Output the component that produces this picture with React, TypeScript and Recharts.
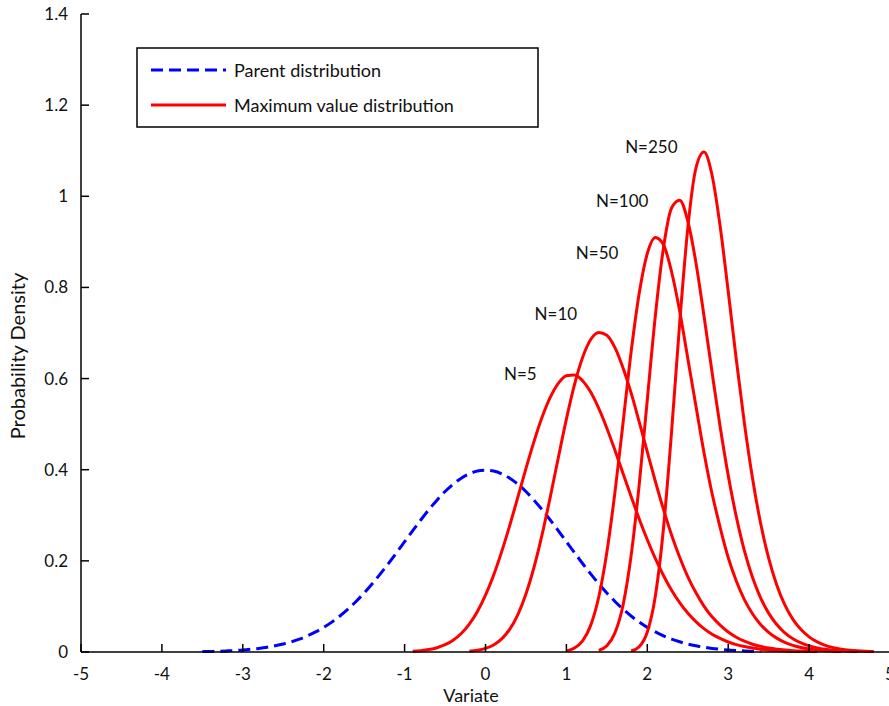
import { LineChart, Line, XAxis, YAxis, ReferenceDot } from "recharts";

// parent distribution (standard normal)
const PARENT: [number, number][] = [
  [-3.5, 0.0009], [-3.4, 0.0012], [-3.3, 0.0017], [-3.2, 0.0024], [-3.1, 0.0033],
  [-3.0, 0.0044], [-2.9, 0.006], [-2.8, 0.0079], [-2.7, 0.0104], [-2.6, 0.0136],
  [-2.5, 0.0175], [-2.4, 0.0224], [-2.3, 0.0283], [-2.2, 0.0355], [-2.1, 0.044],
  [-2.0, 0.054], [-1.9, 0.0656], [-1.8, 0.079], [-1.7, 0.094], [-1.6, 0.1109],
  [-1.5, 0.1295], [-1.4, 0.1497], [-1.3, 0.1714], [-1.2, 0.1942], [-1.1, 0.2179],
  [-1.0, 0.242], [-0.9, 0.2661], [-0.8, 0.2897], [-0.7, 0.3123], [-0.6, 0.3332],
  [-0.5, 0.3521], [-0.4, 0.3683], [-0.3, 0.3814], [-0.2, 0.391], [-0.1, 0.397],
  [0, 0.3989], [0.1, 0.397], [0.2, 0.391], [0.3, 0.3814], [0.4, 0.3683],
  [0.5, 0.3521], [0.6, 0.3332], [0.7, 0.3123], [0.8, 0.2897], [0.9, 0.2661],
  [1.0, 0.242], [1.1, 0.2179], [1.2, 0.1942], [1.3, 0.1714], [1.4, 0.1497],
  [1.5, 0.1295], [1.6, 0.1109], [1.7, 0.094], [1.8, 0.079], [1.9, 0.0656],
  [2.0, 0.054], [2.1, 0.044], [2.2, 0.0355], [2.3, 0.0283], [2.4, 0.0224],
  [2.5, 0.0175], [2.6, 0.0136], [2.7, 0.0104], [2.8, 0.0079], [2.9, 0.006],
  [3.0, 0.0044], [3.1, 0.0033], [3.2, 0.0024], [3.3, 0.0017], [3.4, 0.0012],
];

// maximum value distributions, one per sample size N
const MAX_N5: [number, number][] = [
  [-0.9, 0.0015], [-0.8, 0.0029], [-0.7, 0.0054], [-0.6, 0.0094], [-0.5, 0.016],
  [-0.4, 0.026], [-0.3, 0.0407], [-0.2, 0.0612], [-0.1, 0.089], [0, 0.1247],
  [0.1, 0.1685], [0.2, 0.2202], [0.3, 0.278], [0.4, 0.3398], [0.5, 0.4025],
  [0.6, 0.4621], [0.7, 0.5155], [0.8, 0.5588], [0.9, 0.5896], [1.0, 0.6062],
  [1.1, 0.608], [1.2, 0.5954], [1.3, 0.5703], [1.4, 0.5344], [1.5, 0.4911],
  [1.6, 0.4426], [1.7, 0.3916], [1.8, 0.3413], [1.9, 0.2919], [2.0, 0.2463],
  [2.1, 0.2047], [2.2, 0.1678], [2.3, 0.1355], [2.4, 0.1084], [2.5, 0.0854],
  [2.6, 0.0667], [2.7, 0.0513], [2.8, 0.0391], [2.9, 0.0298], [3.0, 0.022],
  [3.1, 0.0163], [3.2, 0.0119], [3.3, 0.0086], [3.4, 0.0062], [3.5, 0.0044],
  [3.6, 0.0031], [3.7, 0.0021], [3.8, 0.0015], [3.9, 0.001],
];
const MAX_N10: [number, number][] = [
  [-0.2, 0.0016], [-0.1, 0.0037], [0, 0.0078], [0.1, 0.0154], [0.2, 0.0287],
  [0.3, 0.0501], [0.4, 0.0822], [0.5, 0.1273], [0.6, 0.186], [0.7, 0.258],
  [0.8, 0.3397], [0.9, 0.4264], [1.0, 0.511], [1.1, 0.5865], [1.2, 0.6461],
  [1.3, 0.6856], [1.4, 0.7013], [1.5, 0.6951], [1.6, 0.6678], [1.7, 0.6234],
  [1.8, 0.5685], [1.9, 0.5048], [2.0, 0.439], [2.1, 0.3741], [2.2, 0.313],
  [2.3, 0.2568], [2.4, 0.208], [2.5, 0.1655], [2.6, 0.1304], [2.7, 0.1008],
  [2.8, 0.0772], [2.9, 0.059], [3.0, 0.0438], [3.1, 0.0324], [3.2, 0.0237],
  [3.3, 0.0171], [3.4, 0.0123], [3.5, 0.0087], [3.6, 0.0061], [3.7, 0.0043],
  [3.8, 0.0029], [3.9, 0.002], [4.0, 0.0013], [4.1, 0.0009],
];
const MAX_N50: [number, number][] = [
  [1.0, 0.0025], [1.1, 0.0086], [1.2, 0.0243], [1.3, 0.0584], [1.4, 0.1206],
  [1.5, 0.2189], [1.6, 0.3503], [1.7, 0.5025], [1.8, 0.6586], [1.9, 0.7874],
  [2.0, 0.8744], [2.1, 0.9098], [2.2, 0.8938], [2.3, 0.8344], [2.4, 0.7483],
  [2.5, 0.6448], [2.6, 0.5409], [2.7, 0.4385], [2.8, 0.3484], [2.9, 0.2737],
  [3.0, 0.2073], [3.1, 0.1559], [3.2, 0.1151], [3.3, 0.084], [3.4, 0.0605],
  [3.5, 0.0432], [3.6, 0.0304], [3.7, 0.0211], [3.8, 0.0146], [3.9, 0.0099],
  [4.0, 0.0067], [4.1, 0.0045], [4.2, 0.003], [4.3, 0.0019], [4.4, 0.0013],
];
const MAX_N100: [number, number][] = [
  [1.4, 0.0036], [1.5, 0.0138], [1.6, 0.0419], [1.7, 0.1026], [1.8, 0.2116],
  [1.9, 0.3672], [2.0, 0.5535], [2.1, 0.7388], [2.2, 0.8872], [2.3, 0.9744],
  [2.4, 0.9915], [2.5, 0.9459], [2.6, 0.8555], [2.7, 0.7384], [2.8, 0.6143],
  [2.9, 0.4947], [3.0, 0.3876], [3.1, 0.2971], [3.2, 0.2224], [3.3, 0.164],
  [3.4, 0.119], [3.5, 0.0853], [3.6, 0.0602], [3.7, 0.042], [3.8, 0.029],
  [3.9, 0.0198], [4.0, 0.0134], [4.1, 0.0089], [4.2, 0.0059], [4.3, 0.0039],
  [4.4, 0.0025], [4.5, 0.0016], [4.6, 0.001],
];
const MAX_N250: [number, number][] = [
  [1.8, 0.0022], [1.9, 0.0116], [2.0, 0.0438], [2.1, 0.1236], [2.2, 0.2716],
  [2.3, 0.4834], [2.4, 0.721], [2.5, 0.9292], [2.6, 1.061], [2.7, 1.0972],
  [2.8, 1.0466], [2.9, 0.9347], [3.0, 0.7915], [3.1, 0.6419], [3.2, 0.5023],
  [3.3, 0.3819], [3.4, 0.2832], [3.5, 0.206], [3.6, 0.1471], [3.7, 0.1034],
  [3.8, 0.0717], [3.9, 0.0492], [4.0, 0.0332], [4.1, 0.0222], [4.2, 0.0147],
  [4.3, 0.0096], [4.4, 0.0062], [4.5, 0.004], [4.6, 0.0025], [4.7, 0.0016],
  [4.8, 0.001],
];

const RED_SERIES = [MAX_N5, MAX_N10, MAX_N50, MAX_N100, MAX_N250];

// curve labels, placed in data units
const N_LABELS: { text: string; x: number; y: number }[] = [
  { text: "N=5", x: 0.43, y: 0.61 },
  { text: "N=10", x: 0.87, y: 0.742 },
  { text: "N=50", x: 1.38, y: 0.876 },
  { text: "N=100", x: 1.69, y: 0.99 },
  { text: "N=250", x: 2.05, y: 1.108 },
];

const X_TICKS = [-5, -4, -3, -2, -1, 0, 1, 2, 3, 4, 5];
const Y_TICKS = [0, 0.2, 0.4, 0.6, 0.8, 1, 1.2, 1.4];

const LEGEND_ITEMS = [
  { label: "Parent distribution", color: "#0000ff", dash: "12 6" },
  { label: "Maximum value distribution", color: "#ff0000", dash: undefined as string | undefined },
];

const FONT = "Lato, 'Open Sans', sans-serif";
const TEXT = "#111";

const toPoints = (arr: [number, number][]) => arr.map(([x, y]) => ({ x, y }));

const axisLine = { stroke: "#000", strokeWidth: 1.5 };
const tickStyle = { fill: TEXT, fontSize: 17, fontFamily: FONT };

function YTitle() {
  return (
    <text
      x={17}
      y={356}
      transform="rotate(-90 17 356)"
      textAnchor="middle"
      dominantBaseline="central"
      fontSize={20}
      fontFamily={FONT}
      fill={TEXT}
    >
      Probability Density
    </text>
  );
}

function XTitle() {
  return (
    <text x={471} y={702} textAnchor="middle" fontSize={18} fontFamily={FONT} fill={TEXT}>
      Variate
    </text>
  );
}

function LegendBox() {
  return (
    <svg width={403} height={81} style={{ position: "absolute", left: 136, top: 47 }}>
      <rect x={1} y={1} width={401} height={79} fill="#fff" stroke="#000" strokeWidth={1.5} />
      {LEGEND_ITEMS.map((it, i) => (
        <g key={i}>
          <line
            x1={15}
            x2={90}
            y1={23 + i * 35}
            y2={23 + i * 35}
            stroke={it.color}
            strokeWidth={3}
            strokeDasharray={it.dash}
          />
          <text
            x={98}
            y={23 + i * 35}
            dominantBaseline="central"
            fontSize={18}
            fontFamily={FONT}
            fill={TEXT}
          >
            {it.label}
          </text>
        </g>
      ))}
    </svg>
  );
}

export default function App() {
  return (
    <div style={{ position: "absolute", left: 0, top: 0, width: 889, height: 706, overflow: "hidden", background: "#fff" }}>
      <LineChart width={895} height={706} margin={{ top: 14, right: 5, left: 0, bottom: 0 }}>
        <XAxis
          xAxisId="b"
          type="number"
          dataKey="x"
          domain={[-5, 5]}
          ticks={X_TICKS}
          interval={0}
          height={54}
          axisLine={axisLine}
          tickLine={axisLine}
          tickSize={-8}
          tickMargin={24}
          tick={tickStyle}
          label={<XTitle />}
        />
        <XAxis
          xAxisId="t"
          orientation="top"
          type="number"
          domain={[-5, 5]}
          ticks={X_TICKS}
          interval={0}
          height={0}
          axisLine={axisLine}
          tickLine={axisLine}
          tickSize={-8}
          tickFormatter={() => ""}
        />
        <YAxis
          yAxisId="l"
          type="number"
          domain={[0, 1.4]}
          ticks={Y_TICKS}
          interval={0}
          width={81}
          axisLine={axisLine}
          tickLine={axisLine}
          tickSize={-8}
          tickMargin={21}
          tick={tickStyle}
          label={<YTitle />}
        />
        <YAxis
          yAxisId="r"
          orientation="right"
          type="number"
          domain={[0, 1.4]}
          ticks={Y_TICKS}
          interval={0}
          width={0}
          axisLine={axisLine}
          tickLine={axisLine}
          tickSize={-8}
          tickFormatter={() => ""}
        />
        <Line
          xAxisId="b"
          yAxisId="l"
          data={toPoints(PARENT)}
          dataKey="y"
          type="monotone"
          stroke="#0000ff"
          strokeWidth={3}
          strokeDasharray="12 6"
          dot={false}
          isAnimationActive={false}
        />
        {RED_SERIES.map((s, i) => (
          <Line
            key={i}
            xAxisId="b"
            yAxisId="l"
            data={toPoints(s)}
            dataKey="y"
            type="monotone"
            stroke="#ff0000"
            strokeWidth={3}
            dot={false}
            isAnimationActive={false}
          />
        ))}
        {N_LABELS.map((l) => (
          <ReferenceDot
            key={l.text}
            xAxisId="b"
            yAxisId="l"
            x={l.x}
            y={l.y}
            r={0}
            stroke="none"
            fill="none"
            label={{ value: l.text, position: "center", fontSize: 17, fontFamily: FONT, fill: TEXT }}
          />
        ))}
      </LineChart>
      <LegendBox />
    </div>
  );
}
